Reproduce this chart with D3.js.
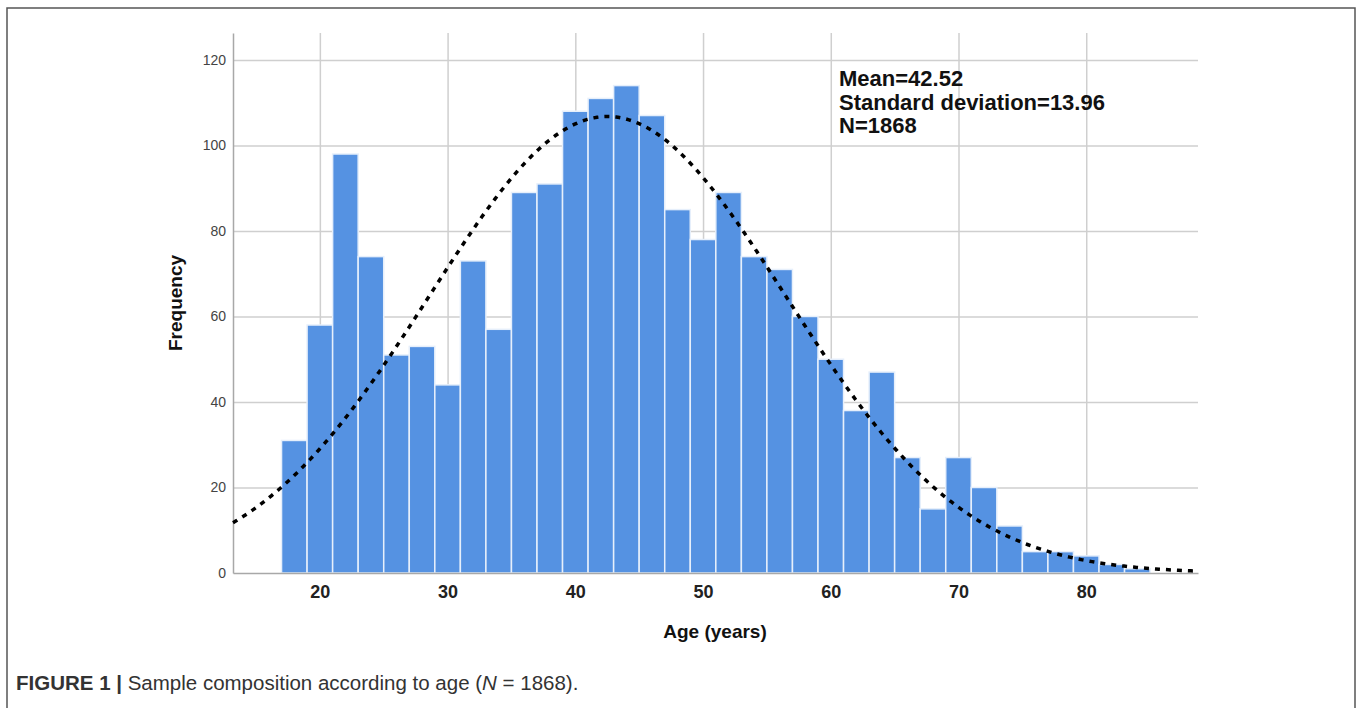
<!DOCTYPE html>
<html>
<head>
<meta charset="utf-8">
<script src="https://cdn.jsdelivr.net/npm/d3@7"></script>
<style>
  body { margin: 0; background: #fff; }
  svg { display: block; font-family: "Liberation Sans", Arial, sans-serif; }
</style>
</head>
<body>
<div id="chart"></div>
<script>
// age bins (2 years wide) and their counts
const binStarts = [17, 19, 21, 23, 25, 27, 29, 31, 33, 35, 37, 39, 41, 43, 45, 47, 49,
  51, 53, 55, 57, 59, 61, 63, 65, 67, 69, 71, 73, 75, 77, 79, 81, 83];
const counts = [31, 58, 98, 74, 51, 53, 44, 73, 57, 89, 91, 108, 111, 114, 107, 85, 78,
  89, 74, 71, 60, 50, 38, 47, 27, 15, 27, 20, 11, 5, 5, 4, 2, 1];
const binWidth = 2;

// ticks
const xTicks = [20, 30, 40, 50, 60, 70, 80];
const yTicks = [0, 20, 40, 60, 80, 100, 120];

// summary shown in the chart (normal curve uses these)
const mean = 42.52;
const sd = 13.96;
const n = 1868;
const statLines = ['Mean=42.52', 'Standard deviation=13.96', 'N=1868'];

const width = 1357;
const height = 708;

// plot area
const plot = {left: 233, right: 1198, top: 33, bottom: 573};

const x = d3.scaleLinear().domain([13.2, 88.75]).range([plot.left, plot.right]);
const y = d3.scaleLinear().domain([0, 126.3]).range([plot.bottom, plot.top]);

const svg = d3.select('#chart').append('svg')
  .attr('width', width)
  .attr('height', height);

svg.append('rect')
  .attr('width', width)
  .attr('height', height)
  .attr('fill', '#fff');

// outer frame (open at the bottom)
svg.append('path')
  .attr('d', `M7,${height} V8 H1355 V${height}`)
  .attr('fill', 'none')
  .attr('stroke', '#555')
  .attr('stroke-width', 1.5);

// gridlines
const yGrid = svg.append('g')
  .attr('transform', `translate(${plot.left},0)`)
  .call(d3.axisLeft(y).tickValues(yTicks.filter(d => d > 0))
    .tickSize(-(plot.right - plot.left)).tickFormat(''));
yGrid.select('.domain').remove();
yGrid.selectAll('line').attr('stroke', '#cfcfcf').attr('stroke-width', 1.5);

const xGrid = svg.append('g')
  .attr('transform', `translate(0,${plot.bottom})`)
  .call(d3.axisBottom(x).tickValues(xTicks)
    .tickSize(-(plot.bottom - plot.top)).tickFormat(''));
xGrid.select('.domain').remove();
xGrid.selectAll('line').attr('stroke', '#cfcfcf').attr('stroke-width', 1.5);

// bars
svg.append('g')
  .selectAll('rect')
  .data(counts)
  .join('rect')
    .attr('x', (d, i) => x(binStarts[i]))
    .attr('y', d => y(d))
    .attr('width', (d, i) => x(binStarts[i] + binWidth) - x(binStarts[i]))
    .attr('height', d => y(0) - y(d))
    .attr('fill', '#5592e2')
    .attr('stroke', '#e6effb')
    .attr('stroke-width', 1.5);

// axes
const yAxis = svg.append('g')
  .attr('transform', `translate(${plot.left},0)`)
  .call(d3.axisLeft(y).tickValues(yTicks).tickSize(0).tickSizeOuter(0).tickPadding(7));
yAxis.select('.domain').attr('stroke', '#a8a8a8').attr('stroke-width', 1.5);
yAxis.selectAll('text')
  .attr('font-size', 14)
  .attr('fill', '#444')
  .attr('font-family', '"Liberation Sans", Arial, sans-serif');

const xAxis = svg.append('g')
  .attr('transform', `translate(0,${plot.bottom})`)
  .call(d3.axisBottom(x).tickValues(xTicks).tickSize(0).tickSizeOuter(0).tickPadding(12));
xAxis.select('.domain').attr('stroke', '#a8a8a8').attr('stroke-width', 1.5);
xAxis.selectAll('text')
  .attr('font-size', 18)
  .attr('font-weight', 'bold')
  .attr('fill', '#222')
  .attr('font-family', '"Liberation Sans", Arial, sans-serif');

// fitted normal curve scaled to counts
const normal = v => n * binWidth * Math.exp(-0.5 * ((v - mean) / sd) ** 2) / (sd * Math.sqrt(2 * Math.PI));
const curveX = d3.range(x.domain()[0], x.domain()[1] + 0.001, 0.25);

svg.append('path')
  .datum(curveX)
  .attr('d', d3.line().x(d => x(d)).y(d => y(normal(d))))
  .attr('fill', 'none')
  .attr('stroke', '#000')
  .attr('stroke-width', 3.5)
  .attr('stroke-dasharray', '5,6');

// axis titles
svg.append('text')
  .attr('transform', 'translate(182,303) rotate(-90)')
  .attr('text-anchor', 'middle')
  .attr('font-size', 19)
  .attr('font-weight', 'bold')
  .attr('fill', '#111')
  .text('Frequency');

svg.append('text')
  .attr('x', 715)
  .attr('y', 638)
  .attr('text-anchor', 'middle')
  .attr('font-size', 19)
  .attr('font-weight', 'bold')
  .attr('fill', '#111')
  .text('Age (years)');

// stats box text
svg.append('g')
  .selectAll('text')
  .data(statLines)
  .join('text')
    .attr('x', 839)
    .attr('y', (d, i) => 86 + i * 23.5)
    .attr('font-size', 22)
    .attr('font-weight', 'bold')
    .attr('fill', '#111')
    .text(d => d);

// caption
const caption = svg.append('text')
  .attr('x', 16)
  .attr('y', 690)
  .attr('font-size', 20.5)
  .attr('fill', '#333');
caption.append('tspan').attr('font-weight', 'bold').text('FIGURE 1 | ');
caption.append('tspan').text('Sample composition according to age (');
caption.append('tspan').attr('font-style', 'italic').text('N');
caption.append('tspan').text(' = 1868).');
</script>
</body>
</html>
